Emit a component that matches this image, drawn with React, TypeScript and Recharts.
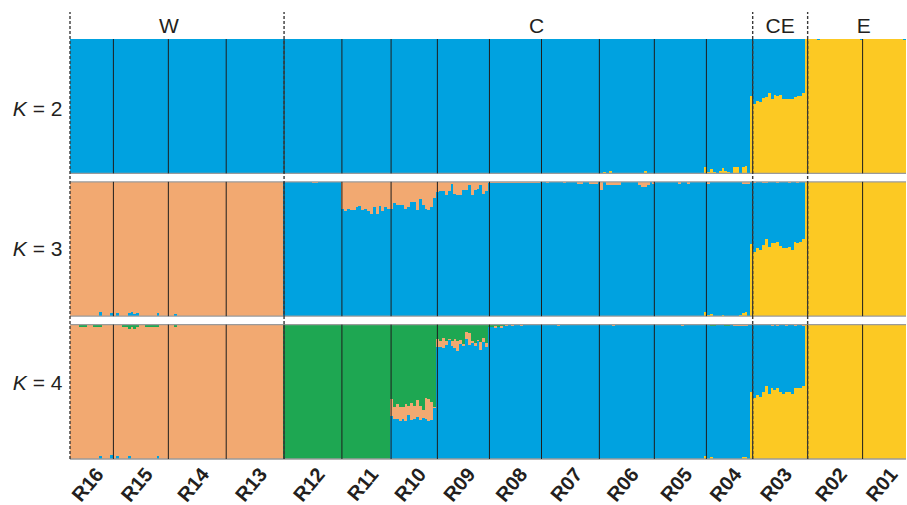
import React from "react";
import { BarChart, Bar, XAxis, YAxis, ReferenceLine } from "recharts";

// ---------- categories ----------
const populations = ["R16", "R15", "R14", "R13", "R12", "R11", "R10", "R09", "R08", "R07", "R06", "R05", "R04", "R03", "R02", "R01"];
const popSizes = [15, 19, 20, 20, 20, 17, 16, 18, 18, 20, 19, 18, 16, 19, 19, 16];
const groupLabels = ["W", "C", "CE", "E"];
const groupLabelAt = [34.2, 161.3, 245.5, 274.4];
const groupEndsAfter = ["R13", "R04", "R03"];
const kValues = ["2", "3", "4"];

type Spec = (number | number[])[];

// ---------- K = 2 : yellow (blue = rest) ----------
const k2Yellow: Spec = [
  0, 0, 0, 0, 0, 0, 0, 0, 0, 0,
  [0, 0, 0.01, 0, 0.02, 0, 0, 0, 0, 0, 0, 0, 0, 0, 0, 0, 0.015, 0, 0],
  0,
  [0.05, 0.012, 0.03, 0.01, 0, 0.02, 0.037, 0.02, 0.007, 0, 0.047, 0.047, 0, 0.047, 0.054, 0],
  [0.573, 0.516, 0.541, 0.528, 0.56, 0.565, 0.598, 0.556, 0.58, 0.578, 0.583, 0.556, 0.553, 0.551, 0.553, 0.568, 0.575, 0.578, 0.598],
  [1, 1, 1, 1, 0.99, 1, 1, 1, 1, 1, 1, 1, 1, 1, 1, 1, 1, 1, 1],
  [0.99, 1, 1, 1, 1, 1, 1, 1, 1, 1, 1, 1, 1, 1, 1, 0.99],
];

// ---------- K = 3 : yellow, orange (blue = rest) ----------
const k3Yellow: Spec = [
  0, 0, 0, 0, 0, 0, 0, 0, 0, 0, 0, 0,
  [0.03, 0.008, 0.015, 0, 0, 0, 0.008, 0, 0, 0, 0, 0, 0.008, 0.023, 0.03, 0],
  [0.539, 0.481, 0.506, 0.494, 0.529, 0.574, 0.514, 0.544, 0.544, 0.551, 0.521, 0.506, 0.511, 0.516, 0.494, 0.554, 0.544, 0.554, 0.574],
  1,
  1,
];
const k3Orange: Spec = [
  [1, 1, 1, 1, 1, 1, 1, 1, 1, 1, 0.97, 1, 1, 1, 0.975],
  [1, 0.975, 1, 1, 1, 0.98, 0.97, 0.985, 0.98, 1, 1, 1, 1, 1, 1, 0.98, 1, 1, 1],
  [1, 1, 0.985, 1, 1, 1, 1, 1, 1, 1, 1, 1, 1, 1, 1, 1, 1, 1, 1, 1],
  1,
  [0, 0, 0, 0, 0, 0, 0, 0, 0, 0, 0.012, 0.012, 0, 0, 0, 0, 0, 0, 0, 0],
  [0.2, 0.22, 0.2, 0.21, 0.21, 0.19, 0.18, 0.21, 0.2, 0.22, 0.24, 0.19, 0.24, 0.18, 0.22, 0.19, 0.2],
  [0.2, 0.16, 0.17, 0.17, 0.17, 0.2, 0.19, 0.15, 0.15, 0.21, 0.13, 0.17, 0.2, 0.21, 0.19, 0.12],
  [0.075, 0.065, 0.065, 0.1, 0.07, 0.013, 0.088, 0.095, 0.095, 0.058, 0.058, 0.02, 0.095, 0.063, 0.056, 0.02, 0.088, 0.07],
  [0.01, 0.01, 0.008, 0.01, 0.012, 0.01, 0.01, 0.008, 0.01, 0.01, 0.01, 0.01, 0.008, 0.01, 0.01, 0.012, 0.01, 0.01],
  [0, 0, 0.012, 0, 0, 0, 0, 0, 0.012, 0, 0, 0, 0, 0.015, 0.015, 0, 0, 0.015, 0.015, 0.015],
  [0, 0.063, 0, 0.02, 0.02, 0.02, 0.02, 0.02, 0, 0, 0, 0, 0, 0, 0.02, 0.037, 0.037, 0.02, 0],
  [0.015, 0, 0, 0, 0, 0, 0, 0, 0, 0.015, 0, 0, 0.015, 0, 0, 0, 0, 0],
  [0, 0.015, 0, 0, 0, 0, 0, 0, 0, 0, 0, 0, 0, 0.015, 0.015, 0.015],
  [0, 0.008, 0, 0, 0.008, 0.008, 0, 0, 0, 0.008, 0, 0, 0, 0.008, 0, 0, 0.008, 0, 0],
  0,
  0,
];

// ---------- K = 4 : yellow, orange, green (blue = rest) ----------
const k4Yellow: Spec = [
  0, 0, 0, 0, 0, 0, 0, 0, 0, 0, 0, 0,
  [0.02, 0, 0.012, 0, 0, 0, 0, 0, 0, 0, 0, 0, 0, 0.012, 0.012, 0],
  [0.502, 0.453, 0.48, 0.465, 0.502, 0.547, 0.483, 0.525, 0.517, 0.527, 0.502, 0.483, 0.495, 0.502, 0.483, 0.527, 0.525, 0.527, 0.54],
  1,
  1,
];
const k4Orange: Spec = [
  [1, 1, 1, 0.98, 0.98, 0.98, 1, 1, 0.98, 0.98, 0.96, 1, 1, 1, 0.97],
  [1, 0.98, 1, 0.98, 0.98, 0.945, 0.98, 0.97, 0.98, 1, 1, 0.98, 0.98, 0.98, 0.98, 0.96, 1, 1, 1],
  [1, 1, 0.98, 1, 1, 1, 1, 1, 1, 1, 1, 1, 1, 1, 1, 1, 1, 1, 1, 1],
  1,
  0,
  0,
  [0.125, 0.089, 0.111, 0.104, 0.089, 0.126, 0.067, 0.126, 0.094, 0.126, 0.104, 0.057, 0.153, 0.163, 0.135, 0.008],
  [0.064, 0.045, 0.076, 0.034, 0.005, 0.037, 0.069, 0.07, 0.032, 0.018, 0.049, 0.088, 0.019, 0.023, 0.005, 0.057, 0.032, 0.03],
  [0, 0, 0.01, 0, 0.01, 0, 0.012, 0, 0.01, 0, 0, 0.01, 0, 0, 0, 0, 0, 0],
  [0, 0, 0, 0, 0, 0, 0.01, 0, 0, 0, 0, 0, 0, 0, 0, 0, 0, 0, 0, 0],
  [0, 0, 0, 0, 0, 0.012, 0, 0, 0, 0, 0, 0, 0, 0, 0, 0, 0, 0, 0],
  [0, 0, 0, 0, 0, 0, 0, 0, 0, 0, 0.01, 0, 0, 0, 0, 0, 0, 0],
  [0, 0, 0, 0, 0, 0, 0, 0, 0, 0, 0.01, 0.01, 0.01, 0.01, 0.01, 0],
  [0, 0, 0, 0, 0, 0, 0, 0.008, 0, 0.008, 0, 0, 0.008, 0, 0, 0.008, 0, 0, 0.008],
  0,
  0,
];
const k4Green: Spec = [
  [0, 0, 0, 0.02, 0.02, 0.02, 0, 0, 0.02, 0.02, 0.02, 0, 0, 0, 0],
  [0, 0, 0, 0.02, 0.02, 0.03, 0.02, 0.03, 0.02, 0, 0, 0.02, 0.02, 0.02, 0.02, 0.02, 0, 0, 0],
  [0, 0, 0.02, 0, 0, 0, 0, 0, 0, 0, 0, 0, 0, 0, 0, 0, 0, 0, 0, 0],
  0,
  1,
  1,
  [0.556, 0.615, 0.593, 0.615, 0.615, 0.593, 0.607, 0.585, 0.607, 0.563, 0.607, 0.637, 0.548, 0.556, 0.575, 0.612],
  [0.104, 0.123, 0.099, 0.119, 0.106, 0.119, 0.104, 0.123, 0.111, 0.143, 0.057, 0.062, 0.119, 0.133, 0.114, 0.131, 0.099, 0.138],
  [0.015, 0.015, 0.012, 0.015, 0.012, 0.01, 0, 0, 0, 0, 0, 0, 0, 0, 0, 0, 0, 0],
  0,
  0,
  0,
  [0, 0, 0.012, 0.012, 0, 0, 0, 0.01, 0.01, 0, 0, 0, 0, 0, 0, 0],
  0,
  0,
  0,
];

// ---------- styling ----------
const COLORS = { blue: "#00A2E0", orange: "#F2A971", green: "#1EA752", yellow: "#FCC923" };
const FONT = "'Liberation Sans', Arial, Helvetica, sans-serif";
const TEXT = "#231F20";
const W = 907;
const H = 505;
const GAP = 0.063;
const TOTAL = 3 + 2 * GAP;
const DOT_TOP = 3.327;
const kLabelAt = [2.609, 1.57, 0.566];

function expand(spec: Spec): number[] {
  return spec.flatMap((v, i) => (Array.isArray(v) ? v : Array.from({ length: popSizes[i] }, () => v)));
}

const y2 = expand(k2Yellow);
const y3 = expand(k3Yellow);
const o3 = expand(k3Orange);
const y4 = expand(k4Yellow);
const o4 = expand(k4Orange);
const g4 = expand(k4Green);

const data = y2.map((_, i) => {
  const k2y = y2[i];
  const k3y = y3[i] ?? 0;
  const k3o = o3[i] ?? 0;
  const k4y = y4[i] ?? 0;
  const k4o = o4[i] ?? 0;
  const k4g = g4[i] ?? 0;
  return {
    id: i,
    k4y,
    k4b: Math.max(0, 1 - k4y - k4o - k4g),
    k4o,
    k4g,
    gap1: GAP,
    k3y,
    k3b: Math.max(0, 1 - k3y - k3o),
    k3o,
    gap2: GAP,
    k2y,
    k2b: Math.max(0, 1 - k2y),
  };
});

const N = data.length;
const bounds = popSizes.reduce<number[]>((acc, n) => [...acc, acc[acc.length - 1] + n], [0]);
const popCenters = popSizes.map((n, i) => bounds[i] + n / 2);
const groupBounds = [0, ...groupEndsAfter.map((p) => bounds[populations.indexOf(p) + 1])];
const panelBases = [0, 1 + GAP, 2 + 2 * GAP];

const series = [
  { key: "k4y", color: COLORS.yellow },
  { key: "k4b", color: COLORS.blue },
  { key: "k4o", color: COLORS.orange },
  { key: "k4g", color: COLORS.green },
  { key: "gap1", color: "none" },
  { key: "k3y", color: COLORS.yellow },
  { key: "k3b", color: COLORS.blue },
  { key: "k3o", color: COLORS.orange },
  { key: "gap2", color: "none" },
  { key: "k2y", color: COLORS.yellow },
  { key: "k2b", color: COLORS.blue },
];

const Block = (p: any) => {
  const { x, y, width, height, fill } = p;
  if (!(height > 0) || !(width > 0) || fill === "none") return <g />;
  return <rect x={x} y={y} width={width} height={height} fill={fill} shapeRendering="crispEdges" />;
};

const nearestIndex = (arr: number[], v: number) => {
  let best = 0;
  arr.forEach((a, i) => {
    if (Math.abs(a - v) < Math.abs(arr[best] - v)) best = i;
  });
  return best;
};

const GroupTick = (p: any) => {
  const i = nearestIndex(groupLabelAt, p.payload.value);
  return (
    <text x={p.x} y={33} textAnchor="middle" fontSize={21} fontFamily={FONT} fill={TEXT}>
      {groupLabels[i]}
    </text>
  );
};

const PopTick = (p: any) => {
  const i = nearestIndex(popCenters, p.payload.value);
  const ax = p.x + 13;
  const ay = 475;
  return (
    <text
      x={ax}
      y={ay}
      textAnchor="end"
      fontSize={20}
      fontWeight="bold"
      fontFamily={FONT}
      fill={TEXT}
      transform={`rotate(-50, ${ax}, ${ay})`}
    >
      {populations[i]}
    </text>
  );
};

const KTick = (p: any) => {
  const i = nearestIndex(kLabelAt, p.payload.value);
  return (
    <text x={62.5} y={p.y + 7.5} textAnchor="end" fontSize={21} fontFamily={FONT} fill={TEXT}>
      <tspan fontStyle="italic">K</tspan>
      <tspan> = {kValues[i]}</tspan>
    </text>
  );
};

export default function App() {
  const refs: React.ReactNode[] = [];
  // grey panel edges
  [0, 1, 1 + GAP, 2 + GAP, 2 + 2 * GAP].forEach((v, i) => {
    refs.push(
      <ReferenceLine key={`edge${i}`} xAxisId="pop" yAxisId="y" y={v} stroke="#9a9a9a" strokeWidth={1.3} ifOverflow="visible" />
    );
  });
  // population separators inside each panel
  panelBases.forEach((base, pi) => {
    bounds.slice(1, -1).forEach((b, bi) => {
      refs.push(
        <ReferenceLine
          key={`sep${pi}-${bi}`}
          xAxisId="pop"
          yAxisId="y"
          segment={[{ x: b, y: base }, { x: b, y: base + 1 }]}
          stroke="#1e1e1e"
          strokeWidth={1}
          ifOverflow="visible"
        />
      );
    });
  });
  // dotted group separators
  groupBounds.forEach((b, i) => {
    refs.push(
      <ReferenceLine
        key={`grp${i}`}
        xAxisId="pop"
        yAxisId="y"
        segment={[{ x: b, y: 0 }, { x: b, y: DOT_TOP }]}
        stroke="#3a3a3a"
        strokeWidth={1.4}
        strokeDasharray="3 2"
        ifOverflow="visible"
      />
    );
  });

  return (
    <div style={{ position: "absolute", left: 0, top: 0, width: W, height: H, background: "#fff" }}>
      <BarChart
        width={W}
        height={H}
        data={data}
        margin={{ top: 0, right: 1, bottom: 0, left: 0 }}
        barCategoryGap={0}
        barGap={0}
      >
        <XAxis xAxisId="cat" dataKey="id" type="category" hide />
        <XAxis
          xAxisId="top"
          orientation="top"
          type="number"
          domain={[0, N]}
          allowDataOverflow
          ticks={groupLabelAt}
          interval={0}
          height={39}
          axisLine={false}
          tickLine={false}
          tick={GroupTick}
        />
        <XAxis
          xAxisId="pop"
          orientation="bottom"
          type="number"
          domain={[0, N]}
          allowDataOverflow
          ticks={popCenters}
          interval={0}
          height={46}
          axisLine={false}
          tickLine={false}
          tick={PopTick}
        />
        <YAxis
          yAxisId="y"
          type="number"
          domain={[0, TOTAL]}
          allowDataOverflow
          ticks={kLabelAt}
          interval={0}
          width={70}
          axisLine={false}
          tickLine={false}
          tick={KTick}
        />
        {series.map((s) => (
          <Bar
            key={s.key}
            dataKey={s.key}
            stackId="s"
            xAxisId="cat"
            yAxisId="y"
            fill={s.color}
            shape={Block}
            isAnimationActive={false}
          />
        ))}
        {refs}
      </BarChart>
    </div>
  );
}
